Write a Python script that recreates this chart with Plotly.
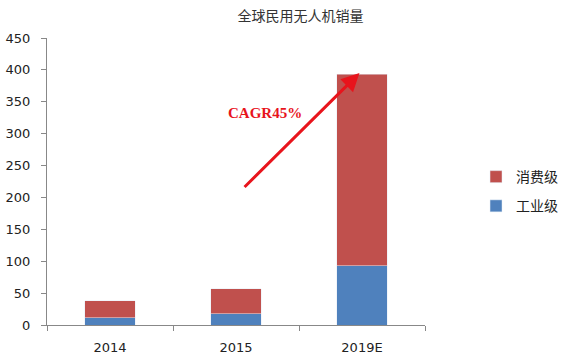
import plotly.graph_objects as go

categories = ["2014", "2015", "2019E"]
industrial = [11.5, 18, 93]
consumer_total = [38, 57, 393]
consumer = [t - i for t, i in zip(consumer_total, industrial)]
y_ticks = [0, 50, 100, 150, 200, 250, 300, 350, 400, 450]

fig = go.Figure()
fig.add_trace(go.Bar(x=categories, y=industrial, name="工业级", marker_color="#4F81BD", width=0.4,
                     legendgroup="g1", legendrank=2))
fig.add_trace(go.Bar(x=categories, y=consumer, name="消费级", marker_color="#C0504D", width=0.4,
                     legendgroup="g2", legendrank=1))

fig.add_annotation(x=1.98, y=395, ax=1.056, ay=214, xref="x", yref="y", axref="x", ayref="y",
                   showarrow=True, arrowhead=2, arrowsize=1.2, arrowwidth=3, arrowcolor="#E8141C", text="")
fig.add_annotation(x=1.23, y=332, xref="x", yref="y", showarrow=False, text="<b>CAGR45%</b>",
                   font=dict(family="Liberation Serif", size=15, color="#E8141C"))

fig.update_layout(
    barmode="stack",
    width=578, height=362,
    margin=dict(l=47, r=153, t=38, b=37, autoexpand=False),
    paper_bgcolor="white", plot_bgcolor="white",
    title=dict(text="全球民用无人机销量", x=0.52, xanchor="center", y=0.955, yanchor="middle",
               font=dict(family="Noto Sans CJK SC", size=14, color="#333333")),
    font=dict(family="DejaVu Sans", size=12, color="#222222"),
    legend=dict(x=1.135, y=0.465, xanchor="left", yanchor="middle", traceorder="grouped",
                font=dict(family="Noto Sans CJK SC", size=14, color="#222222"),
                itemwidth=30, tracegroupgap=8),
    showlegend=True,
)
fig.update_xaxes(showline=True, linecolor="#888888", linewidth=1, ticks="outside", tickson="boundaries",
                 ticklen=5, tickcolor="#888888", showgrid=False, automargin=False, ticklabelstandoff=10,
                 tickfont=dict(size=13, family="DejaVu Sans"))
fig.update_yaxes(range=[0, 450], tickvals=y_ticks, showline=True, linecolor="#888888", linewidth=1,
                 ticks="outside", ticklen=5, tickcolor="#888888", showgrid=False, zeroline=False,
                 automargin=False, ticklabelstandoff=8, tickfont=dict(size=13, family="DejaVu Sans"))

fig.write_html("out.html", config={"displayModeBar": False},
               post_script="document.body.style.margin='0';")
